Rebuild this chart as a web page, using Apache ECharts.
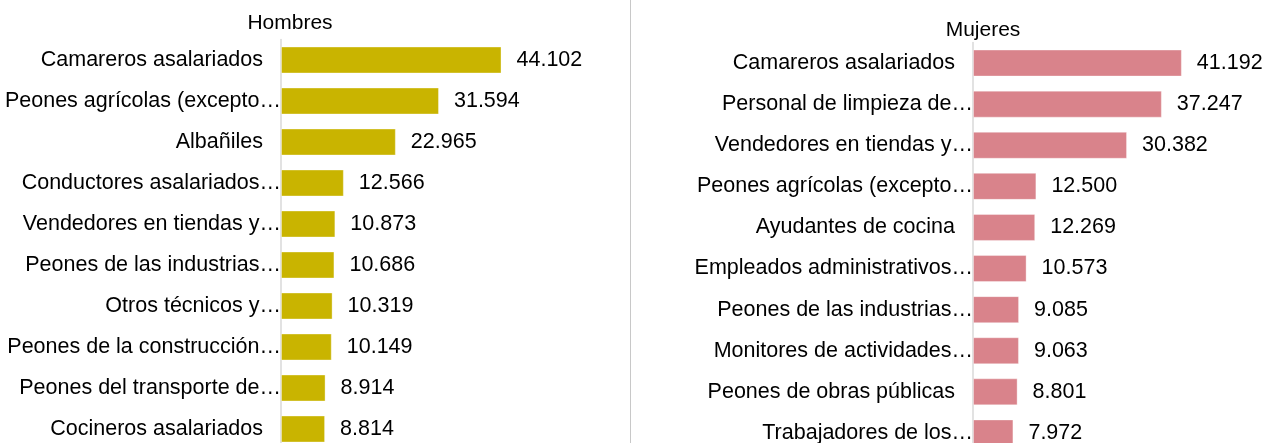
<!DOCTYPE html>
<html>
<head>
<meta charset="utf-8">
<script src="https://cdn.jsdelivr.net/npm/echarts@6/dist/echarts.min.js"></script>
<style>
  html, body { margin: 0; padding: 0; background: #fff; }
  #chart { width: 1266px; height: 443px; }
</style>
</head>
<body>
<div id="chart"></div>
<script>
// Hombres
var menCategories = [
  "Camareros asalariados",
  "Peones agrícolas (excepto…",
  "Albañiles",
  "Conductores asalariados…",
  "Vendedores en tiendas y…",
  "Peones de las industrias…",
  "Otros técnicos y…",
  "Peones de la construcción…",
  "Peones del transporte de…",
  "Cocineros asalariados"
];
var menValues = [44102, 31594, 22965, 12566, 10873, 10686, 10319, 10149, 8914, 8814];

// Mujeres
var womenCategories = [
  "Camareros asalariados",
  "Personal de limpieza de…",
  "Vendedores en tiendas y…",
  "Peones agrícolas (excepto…",
  "Ayudantes de cocina",
  "Empleados administrativos…",
  "Peones de las industrias…",
  "Monitores de actividades…",
  "Peones de obras públicas",
  "Trabajadores de los…"
];
var womenValues = [41192, 37247, 30382, 12500, 12269, 10573, 9085, 9063, 8801, 7972];

var titles = ["Hombres", "Mujeres"];

var FONT = "'Liberation Sans', Arial, sans-serif";
var FS = 21.5;

function fmtNum(v) {
  return String(v).replace(/\B(?=(\d{3})+(?!\d))/g, ".");
}

function catAxis(idx, cats) {
  return {
    type: "category",
    gridIndex: idx,
    data: cats,
    inverse: true,
    axisTick: { show: false },
    axisLine: { lineStyle: { color: "#d9d9d9", width: 1.5 } },
    axisLabel: {
      margin: 0,
      color: "#000",
      fontFamily: FONT,
      fontSize: FS,
      formatter: function (v) {
        return v.endsWith("…") ? "{t|" + v + "}" : "{n|" + v + "}";
      },
      rich: {
        n: { fontFamily: FONT, fontSize: FS, color: "#000", padding: [0, 18, 0, 0] },
        t: { fontFamily: FONT, fontSize: FS, color: "#000" }
      }
    }
  };
}

function valAxis(idx, w) {
  return {
    type: "value",
    gridIndex: idx,
    min: 0,
    max: 50000,
    show: false,
    splitLine: { show: false }
  };
}

function barSeries(idx, values, color) {
  return {
    type: "bar",
    xAxisIndex: idx,
    yAxisIndex: idx,
    data: values,
    barWidth: 27,
    itemStyle: { color: color, borderColor: "rgba(255,255,255,0.35)", borderWidth: 1 },
    label: {
      show: true,
      position: "right",
      distance: 15,
      color: "#000",
      fontFamily: FONT,
      fontSize: FS,
      formatter: function (p) { return fmtNum(p.value); }
    }
  };
}

var chart = echarts.init(document.getElementById("chart"), null, { renderer: "canvas" });
chart.setOption({
  animation: false,
  backgroundColor: "#fff",
  title: [
    { text: titles[0], left: 285, top: 8, textAlign: "center",
      textStyle: { fontFamily: FONT, fontSize: 21, fontWeight: "normal", color: "#000" } },
    { text: titles[1], left: 978, top: 15, textAlign: "center",
      textStyle: { fontFamily: FONT, fontSize: 21, fontWeight: "normal", color: "#000" } }
  ],
  grid: [
    { left: 281, top: 39.5, width: 250, height: 410, outerBoundsMode: "none" },
    { left: 973, top: 42.5, width: 253.5, height: 411, outerBoundsMode: "none" }
  ],
  xAxis: [valAxis(0), valAxis(1)],
  yAxis: [catAxis(0, menCategories), catAxis(1, womenCategories)],
  series: [
    barSeries(0, menValues, "#c9b400"),
    barSeries(1, womenValues, "#d9838b")
  ],
  graphic: [
    { type: "line", shape: { x1: 630.5, y1: 0, x2: 630.5, y2: 443 },
      style: { stroke: "#c8c8c8", lineWidth: 1 } }
  ]
});
</script>
</body>
</html>
